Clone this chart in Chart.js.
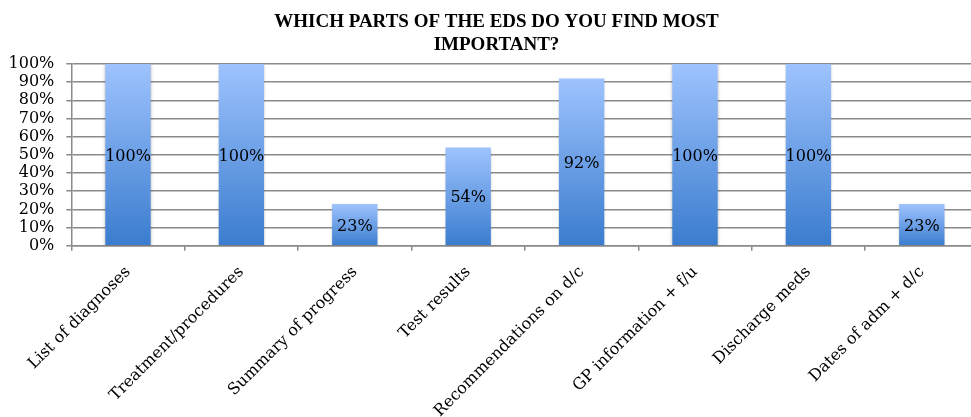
<!DOCTYPE html>
<html><head><meta charset="utf-8">
<script src="https://cdn.jsdelivr.net/npm/chart.js@4/dist/chart.umd.min.js"></script>
<style>
html,body{margin:0;padding:0;background:#fff;overflow:hidden;width:971px;height:417px}
#wrap{position:relative;width:993px;height:417px}
</style>
</head><body><div id="wrap"><canvas id="c" width="993" height="417"></canvas></div>
<script>
const categories = ['List of diagnoses','Treatment/procedures','Summary of progress','Test results','Recommendations on d/c','GP information + f/u','Discharge meds','Dates of adm + d/c'];
const values = [100, 100, 23, 54, 92, 100, 100, 23];
const yTickStep = 10;
const yMax = 100;
const titleLines = ['WHICH PARTS OF THE EDS DO YOU FIND MOST', 'IMPORTANT?'];

const serif = 'DejaVu Serif';
const gridColor = '#8a8a8a';

const titleCenter = {
  id: 'titleCenter',
  afterLayout(chart) {
    const t = chart.titleBlock;
    if (t) { t.left = 0; t.right = chart.width; t.width = chart.width; }
  }
};
const barShadow = {
  id: 'barShadow',
  beforeDatasetsDraw(chart) {
    const c = chart.ctx; c.save();
    c.shadowColor = 'rgba(0,0,0,0.28)'; c.shadowBlur = 3; c.shadowOffsetX = 0; c.shadowOffsetY = 1;
  },
  afterDatasetsDraw(chart) { chart.ctx.restore(); }
};
const valueLabels = {
  id: 'valueLabels',
  afterDatasetsDraw(chart) {
    const c = chart.ctx; const meta = chart.getDatasetMeta(0);
    c.save();
    c.font = '16px "' + serif + '"'; c.fillStyle = '#000'; c.textAlign = 'center'; c.textBaseline = 'middle';
    meta.data.forEach((bar, i) => {
      c.fillText(values[i] + '%', bar.x, (bar.y + bar.base) / 2 + 2);
    });
    c.restore();
  }
};

new Chart(document.getElementById('c'), {
  type: 'bar',
  data: {
    labels: categories,
    datasets: [{
      data: values,
      borderWidth: 0,
      barPercentage: 0.4,
      categoryPercentage: 1.0,
      backgroundColor: (ctx) => {
        const chart = ctx.chart; const area = chart.chartArea;
        if (!area || ctx.type !== 'data') return '#6f9fe6';
        const ys = chart.scales.y;
        const y0 = ys.getPixelForValue(0), y1 = ys.getPixelForValue(ctx.raw);
        const g = chart.ctx.createLinearGradient(0, y1, 0, y0);
        g.addColorStop(0, '#9EC3FE');
        g.addColorStop(1, '#3A7CCE');
        return g;
      }
    }]
  },
  options: {
    responsive: false,
    animation: false,
    devicePixelRatio: 1,
    layout: { padding: { left: 0, right: 14.5, top: 0, bottom: 0 } },
    plugins: {
      legend: { display: false },
      tooltip: { enabled: false },
      title: {
        display: true,
        text: titleLines,
        color: '#000',
        font: { family: 'Liberation Serif', size: 19, weight: 'bold', lineHeight: 1.2 },
        padding: { top: 10.8, bottom: 7.6 }
      }
    },
    scales: {
      x: {
        grid: { drawOnChartArea: false, drawTicks: true, tickLength: 5, color: gridColor, lineWidth: 1.5, offset: true },
        border: { color: gridColor, width: 1.5 },
        ticks: { autoSkip: false, maxRotation: 45, minRotation: 45, color: '#000', padding: 12,
                 font: { family: serif, size: 16 } },
        afterFit(s) { s.height = 171.3; }
      },
      y: {
        min: 0, max: yMax,
        grid: { color: gridColor, lineWidth: 1.5, tickLength: 5 },
        border: { color: gridColor, width: 1.5 },
        ticks: { stepSize: yTickStep, autoSkip: false, color: '#000', padding: 12, callback: v => v + '%',
                 font: { family: serif, size: 16 } },
        afterFit(s) { s.width = 71.3; }
      }
    }
  },
  plugins: [titleCenter, barShadow, valueLabels]
});
</script>
</body></html>
